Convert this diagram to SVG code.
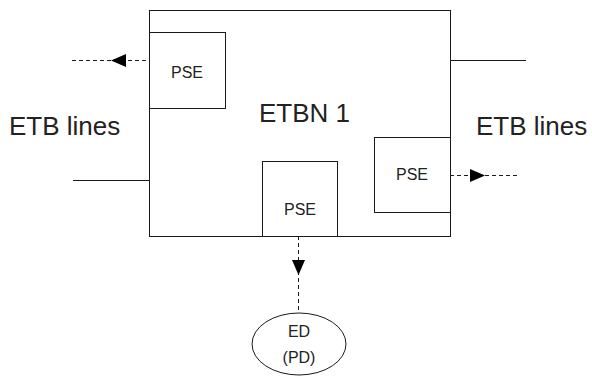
<svg xmlns="http://www.w3.org/2000/svg" width="592" height="376" viewBox="0 0 592 376">
  <style>
    .box { fill: #ffffff; stroke: #1a1a1a; stroke-width: 1; }
    .line { stroke: #1a1a1a; stroke-width: 1; fill: none; }
    .dash { stroke: #1a1a1a; stroke-width: 1; fill: none; stroke-dasharray: 4 3; }
    .head { fill: #000000; }
    .big { font-family: "Liberation Sans", Arial, sans-serif; font-size: 26px; fill: #222222; }
    .small { font-family: "Liberation Sans", Arial, sans-serif; font-size: 16px; fill: #222222; text-anchor: middle; }
  </style>
  <rect width="592" height="376" fill="#ffffff"/>

  <!-- ETB line stubs and power links -->
  <g id="connectors">
    <line class="line" x1="450" y1="60.5" x2="526" y2="60.5"/>
    <line class="line" x1="73" y1="180.5" x2="149" y2="180.5"/>
    <line class="dash" x1="72" y1="60.5" x2="149" y2="60.5"/>
    <polygon class="head" points="111,60.5 126,54 126,67"/>
    <line class="dash" x1="450" y1="175.5" x2="518" y2="175.5"/>
    <polygon class="head" points="485,175.5 470,169 470,182"/>
    <line class="dash" x1="298.5" y1="236" x2="298.5" y2="313"/>
    <polygon class="head" points="298.5,275 292,260 305,260"/>
  </g>

  <g id="etbn1">
    <rect class="box" x="149.5" y="10.5" width="301" height="226"/>
    <text class="big" x="259" y="122">ETBN 1</text>
  </g>

  <g id="pse-left">
    <rect class="box" x="149.5" y="32.5" width="76" height="76"/>
    <text class="small" x="187" y="78">PSE</text>
  </g>

  <g id="pse-right">
    <rect class="box" x="374.5" y="137.5" width="76" height="75"/>
    <text class="small" x="412" y="180">PSE</text>
  </g>

  <g id="pse-bottom">
    <rect class="box" x="262.5" y="161.5" width="75" height="75"/>
    <text class="small" x="300" y="215">PSE</text>
  </g>

  <g id="ed">
    <ellipse class="box" cx="299" cy="344" rx="47" ry="31"/>
    <text class="small" x="299" y="337">ED</text>
    <text class="small" x="299" y="363">(PD)</text>
  </g>

  <text class="big" x="9" y="135">ETB lines</text>
  <text class="big" x="476" y="135">ETB lines</text>
</svg>
